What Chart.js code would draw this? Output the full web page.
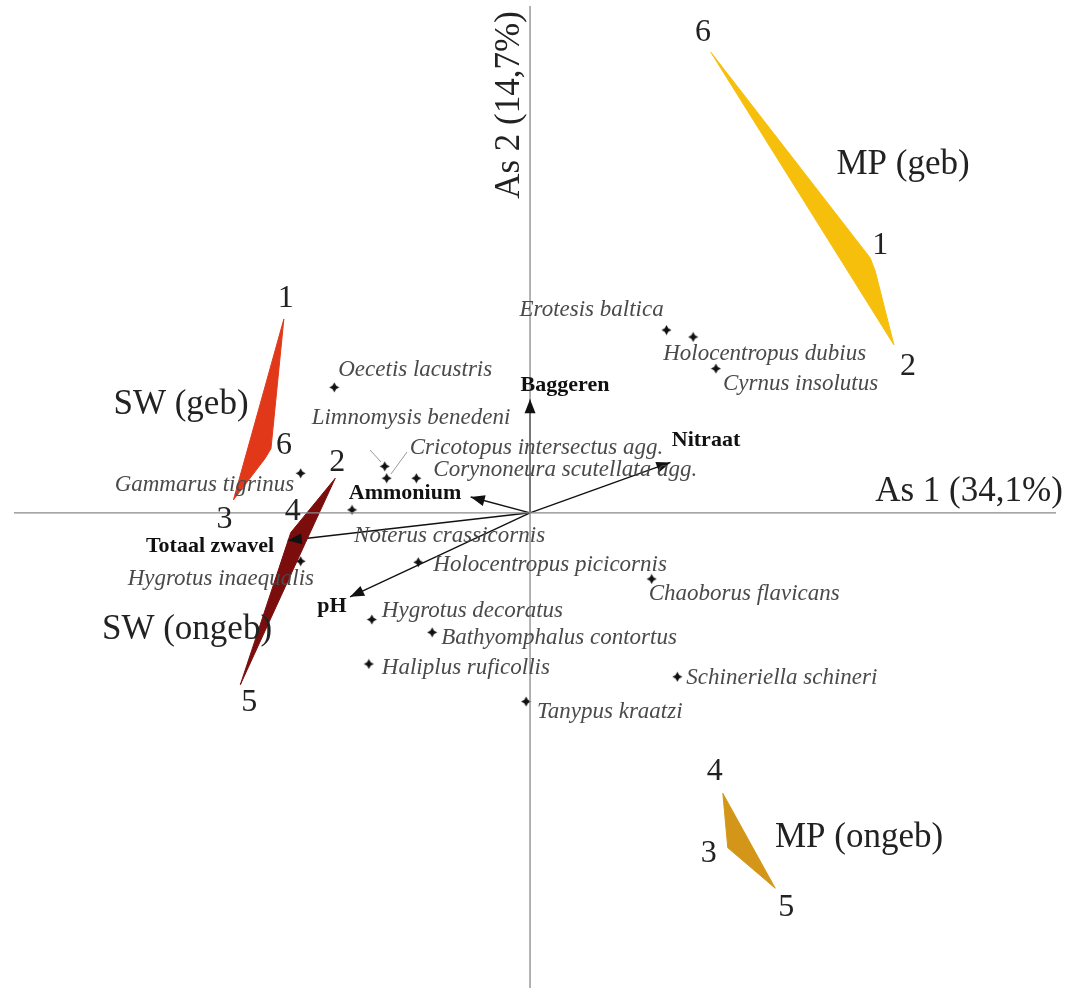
<!DOCTYPE html>
<html>
<head>
<meta charset="utf-8">
<script src="https://cdn.jsdelivr.net/npm/chart.js@4/dist/chart.umd.min.js"></script>
<style>
  html, body { margin: 0; padding: 0; background: #fff; }
  #wrap { width: 1066px; height: 994px; }
</style>
</head>
<body>
<div id="wrap"><canvas id="ordinatie"></canvas></div>
<script>
// Soorten (scores op as 1 en as 2)
const speciesNames = [
    'Erotesis baltica', 'Holocentropus dubius', 'Cyrnus insolutus', 'Oecetis lacustris',
    'Limnomysis benedeni', 'Cricotopus intersectus agg.', 'Corynoneura scutellata agg.',
    'Gammarus tigrinus', 'Noterus crassicornis', 'Hygrotus inaequalis',
    'Holocentropus picicornis', 'Chaoborus flavicans', 'Hygrotus decoratus',
    'Bathyomphalus contortus', 'Haliplus ruficollis', 'Schineriella schineri', 'Tanypus kraatzi'
];
const speciesX = [1.38, 1.65, 1.88, -1.98, -1.47, -1.45, -1.15, -2.32, -1.80, -2.32, -1.13, 1.23, -1.60, -0.99, -1.63, 1.49, -0.04];
const speciesY = [1.85, 1.78, 1.46, 1.27, 0.47, 0.35, 0.35, 0.40, 0.03, -0.49, -0.50, -0.67, -1.08, -1.21, -1.53, -1.66, -1.91];

// Omgevingsvariabelen (pijlen)
const envNames = ['Baggeren', 'Nitraat', 'Ammonium', 'Totaal zwavel', 'pH'];
const envX = [0, 1.42, -0.60, -2.45, -1.82];
const envY = [1.15, 0.51, 0.16, -0.28, -0.85];

// Groepen van monsterpunten (omhullende)
const groupNames = ['MP (geb)', 'SW (geb)', 'SW (ongeb)', 'MP (ongeb)'];
const groupSites = [['6', '1', '', '2'], ['1', '6', '', '3'], ['2', '4', '5', ''], ['4', '3', '5']];
const groupX = [
    [1.83, 3.44, 3.49, 3.68],
    [-2.49, -2.62, -2.68, -3.00],
    [-1.97, -2.42, -2.93, -2.27],
    [1.95, 2.00, 2.48]
];
const groupY = [
    [4.66, 2.58, 2.45, 1.70],
    [1.96, 0.65, 0.55, 0.13],
    [0.35, -0.20, -1.74, -0.30],
    [-2.84, -3.39, -3.80]
];
const axisTitles = ['As 1 (34,1%)', 'As 2 (14,7%)'];

// ---- opmaak (niet-data) ----
const groupColors = ['#f6bf0c', '#e2381a', '#7c0d0d', '#d39618'];
// label-verschuiving in pixels t.o.v. het punt
const speciesLabelOffset = [
    [-147, -20], [-30, 17], [7, 15], [4, -17], [-73, -48], [23, -30], [17, -8],
    [-186, 12], [2, 26], [-173, 18], [15, 3], [-3, 15], [10, -9], [9, 6], [13, 4], [9, 1], [11, 10]
];
const envLabelPos = [[565, 385], [706, 440], [405, 493], [210, 546], [332, 606]];
const groupLabelPos = [[903, 165], [181, 405], [187, 630], [859, 838]];
const siteLabelOffset = [
    [[-8, -20], [10, -12], null, [14, 22]],
    [[2, -21], [13, -3], null, [-9, 20]],
    [[2, -16], [2, -21], [9, 18], null],
    [[-8, -22], [-19, 6], [11, 19]]
];
const leaderLines = { 4: [[370, 450], [381, 462]], 5: [[407, 452], [391, 474]] };

// vierpuntige ster als puntsymbool
function makeStar() {
    const c = document.createElement('canvas');
    c.width = 11; c.height = 11;
    const g = c.getContext('2d');
    g.fillStyle = '#111';
    g.beginPath();
    g.moveTo(5.5, 0.5);
    g.lineTo(7.3, 3.7); g.lineTo(10.5, 5.5); g.lineTo(7.3, 7.3);
    g.lineTo(5.5, 10.5); g.lineTo(3.7, 7.3); g.lineTo(0.5, 5.5); g.lineTo(3.7, 3.7);
    g.closePath();
    g.fill();
    return c;
}

const datasets = [];

// assen door de oorsprong
datasets.push({ type: 'line', data: [{ x: -5.22, y: 0 }, { x: 5.32, y: 0 }], borderColor: '#8a8a8a', borderWidth: 1.3, pointRadius: 0 });
datasets.push({ type: 'line', data: [{ x: 0, y: 5.13 }, { x: 0, y: -4.81 }], borderColor: '#8a8a8a', borderWidth: 1.3, pointRadius: 0 });

// omhullende polygonen
groupX.forEach(function (xs, g) {
    const pts = xs.map(function (x, i) { return { x: x, y: groupY[g][i] }; });
    pts.push(pts[0]);
    datasets.push({
        type: 'line', data: pts, borderColor: groupColors[g], backgroundColor: groupColors[g],
        borderWidth: 1, pointRadius: 0, fill: 'shape', tension: 0
    });
});

// pijlen
envX.forEach(function (x, i) {
    datasets.push({
        type: 'line', data: [{ x: 0, y: 0 }, { x: x, y: envY[i] }],
        borderColor: '#111', borderWidth: 1.4, pointRadius: 0, arrow: true
    });
});

// soorten
datasets.push({
    type: 'scatter',
    data: speciesX.map(function (x, i) { return { x: x, y: speciesY[i] }; }),
    pointStyle: makeStar(), pointRadius: 5
});

const labelPlugin = {
    id: 'biplotLabels',
    afterDatasetsDraw: function (chart) {
        const ctx = chart.ctx;
        const sx = chart.scales.x, sy = chart.scales.y;
        ctx.save();

        // pijlpunten
        chart.data.datasets.forEach(function (ds) {
            if (!ds.arrow) return;
            const x0 = sx.getPixelForValue(0), y0 = sy.getPixelForValue(0);
            const x1 = sx.getPixelForValue(ds.data[1].x), y1 = sy.getPixelForValue(ds.data[1].y);
            const a = Math.atan2(y1 - y0, x1 - x0);
            const len = 14, hw = 5.5;
            ctx.fillStyle = '#111';
            ctx.beginPath();
            ctx.moveTo(x1, y1);
            ctx.lineTo(x1 - len * Math.cos(a) + hw * Math.sin(a), y1 - len * Math.sin(a) - hw * Math.cos(a));
            ctx.lineTo(x1 - len * Math.cos(a) - hw * Math.sin(a), y1 - len * Math.sin(a) + hw * Math.cos(a));
            ctx.closePath();
            ctx.fill();
        });

        // hulplijntjes
        ctx.strokeStyle = '#999';
        ctx.lineWidth = 1;
        Object.keys(leaderLines).forEach(function (k) {
            const l = leaderLines[k];
            ctx.beginPath();
            ctx.moveTo(l[0][0], l[0][1]);
            ctx.lineTo(l[1][0], l[1][1]);
            ctx.stroke();
        });

        // soortnamen
        ctx.font = 'italic 23px "Liberation Serif", "DejaVu Serif", serif';
        ctx.fillStyle = '#4a4a4a';
        ctx.textAlign = 'left';
        ctx.textBaseline = 'middle';
        speciesNames.forEach(function (name, i) {
            const px = sx.getPixelForValue(speciesX[i]), py = sy.getPixelForValue(speciesY[i]);
            ctx.fillText(name, px + speciesLabelOffset[i][0], py + speciesLabelOffset[i][1]);
        });

        // variabelen
        ctx.font = 'bold 22px "Liberation Serif", "DejaVu Serif", serif';
        ctx.fillStyle = '#111';
        ctx.textAlign = 'center';
        envNames.forEach(function (name, i) {
            ctx.fillText(name, envLabelPos[i][0], envLabelPos[i][1]);
        });

        // groepsnamen
        ctx.font = '35px "Liberation Serif", "DejaVu Serif", serif';
        ctx.fillStyle = '#222';
        groupNames.forEach(function (name, g) {
            ctx.fillText(name, groupLabelPos[g][0], groupLabelPos[g][1]);
        });

        // monsterpuntnummers
        ctx.font = '32px "Liberation Serif", "DejaVu Serif", serif';
        groupSites.forEach(function (sites, g) {
            sites.forEach(function (s, i) {
                if (!s) return;
                const px = sx.getPixelForValue(groupX[g][i]), py = sy.getPixelForValue(groupY[g][i]);
                ctx.fillText(s, px + siteLabelOffset[g][i][0], py + siteLabelOffset[g][i][1]);
            });
        });

        // astitels
        ctx.font = '35px "Liberation Serif", "DejaVu Serif", serif';
        ctx.fillText(axisTitles[0], 969, 492);
        ctx.translate(510, 105);
        ctx.rotate(-Math.PI / 2);
        ctx.fillText(axisTitles[1], 0, 0);
        ctx.restore();
    }
};

new Chart(document.getElementById('ordinatie'), {
    type: 'scatter',
    data: { datasets: datasets },
    options: {
        responsive: true,
        maintainAspectRatio: false,
        animation: false,
        layout: { padding: 0 },
        plugins: { legend: { display: false }, tooltip: { enabled: false } },
        scales: {
            x: { type: 'linear', min: -5.30, max: 5.36, display: false },
            y: { type: 'linear', min: -4.81, max: 5.13, display: false }
        }
    },
    plugins: [labelPlugin]
});
</script>
</body>
</html>
